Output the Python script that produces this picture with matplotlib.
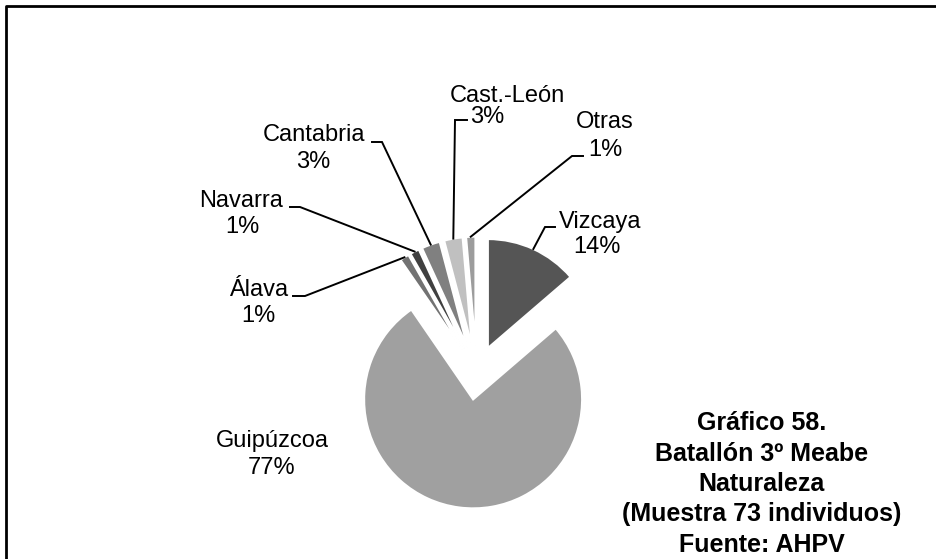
import matplotlib.pyplot as plt
import numpy as np

W, H = 937, 559

# Batallón 3º Meabe, origin of 73 soldiers
regions = ['Vizcaya', 'Guipúzcoa', 'Álava', 'Navarra', 'Cantabria', 'Cast.-León', 'Otras']
counts = [10, 56, 1, 1, 2, 2, 1]
colors = ['#555555', '#a0a0a0', '#727272', '#404040', '#808080', '#c0c0c0', '#9c9c9c']

title_lines = ['Gráfico 58.', 'Batallón 3º Meabe', 'Naturaleza',
               '(Muestra 73 individuos)', 'Fuente: AHPV']


def main():
    plt.rcParams['font.family'] = ['Liberation Sans', 'DejaVu Sans']

    fig = plt.figure(figsize=(W / 100, H / 100), dpi=100)
    ax = fig.add_axes([0, 0, 1, 1])

    total = sum(counts)
    center = (476.6, 372.6)
    radius = 109
    offset = 27  # explode distance, same units as radius

    # y axis runs downward, so counterclock=True turns clockwise on screen
    wedges, _ = ax.pie(counts, colors=colors, startangle=-90, counterclock=True,
                       radius=radius, center=center, explode=[offset] * len(counts),
                       wedgeprops=dict(edgecolor='white', linewidth=1.5))
    ax.set_xlim(0, W)
    ax.set_ylim(H, 0)
    ax.set_aspect('equal')
    ax.axis('off')

    # label placement: name position, percent position, leader elbow path
    layout = {
        'Vizcaya': ((600, 222), (597, 247), [(545, 227), (555, 227)]),
        'Guipúzcoa': ((272, 441), (272, 468), None),
        'Álava': ((259, 290), (258, 316), [(305, 296), (293, 296)]),
        'Navarra': ((241, 201), (242, 227), [(300, 207), (290, 207)]),
        'Cantabria': ((314, 135), (313, 162), [(382, 142), (372, 142)]),
        'Cast.-León': ((507, 96), (487, 117), [(455, 120), (467, 120)]),
        'Otras': ((605, 122), (605, 150), [(572, 156), (583, 156)]),
    }

    for wedge, name, value in zip(wedges, regions, counts):
        name_pos, pct_pos, elbow = layout[name]
        pct = f'{round(value / total * 100)}%'
        ax.text(*name_pos, name, ha='center', va='center', fontsize=17)
        ax.text(*pct_pos, pct, ha='center', va='center', fontsize=17)
        if elbow is None:
            continue
        mid = np.deg2rad((wedge.theta1 + wedge.theta2) / 2)
        cx, cy = wedge.center
        anchor = (cx + wedge.r * np.cos(mid), cy + wedge.r * np.sin(mid))
        pts = [anchor] + elbow
        ax.plot([p[0] for p in pts], [p[1] for p in pts], color='black', lw=1.4,
                solid_joinstyle='miter')

    ax.text(762, 484, '\n'.join(title_lines), ha='center', va='center',
            fontsize=18, fontweight='bold', linespacing=1.33)

    # chart frame
    ax.plot([6, 6, W + 5], [H + 5, 6, 6], color='black', lw=2, clip_on=False)

    fig.savefig('out.png', dpi=100)


if __name__ == '__main__':
    main()
